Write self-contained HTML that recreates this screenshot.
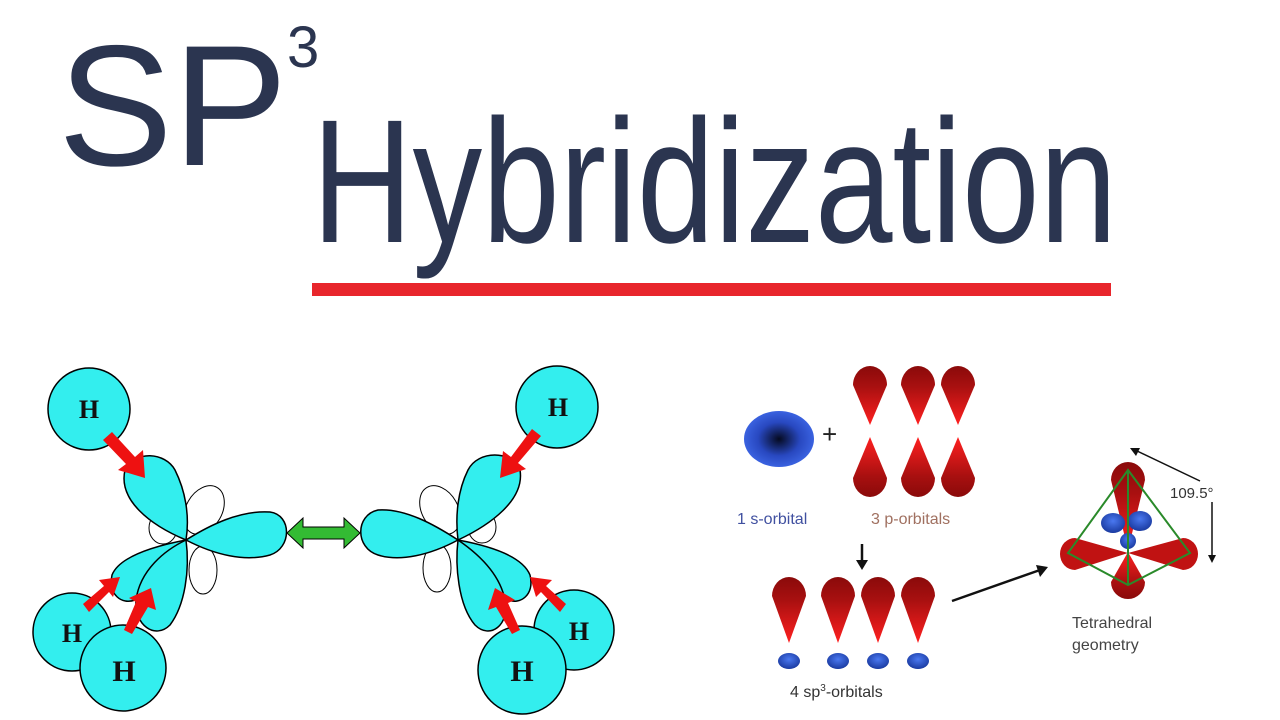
<!DOCTYPE html>
<html><head><meta charset="utf-8"><style>
html,body{margin:0;padding:0;background:#fff;width:1280px;height:720px;overflow:hidden}
svg{display:block}
.sans{font-family:"Liberation Sans",sans-serif}
.serif{font-family:"Liberation Serif",serif;font-weight:bold}
</style></head><body>
<svg width="1280" height="720" viewBox="0 0 1280 720">
<defs>
<radialGradient id="sg" cx="0.5" cy="0.5" r="0.5"><stop offset="0" stop-color="#050a20"/><stop offset="0.6" stop-color="#2848c0"/><stop offset="1" stop-color="#3a62e0"/></radialGradient>
<linearGradient id="pg" x1="0" y1="0" x2="0" y2="1"><stop offset="0" stop-color="#8a0a0a"/><stop offset="0.35" stop-color="#a81010"/><stop offset="1" stop-color="#ff2020"/></linearGradient>
<linearGradient id="pg2" x1="0" y1="1" x2="0" y2="0"><stop offset="0" stop-color="#8a0a0a"/><stop offset="0.35" stop-color="#a81010"/><stop offset="1" stop-color="#ff2020"/></linearGradient>
<radialGradient id="bg" cx="0.5" cy="0.4" r="0.6"><stop offset="0" stop-color="#4a78f0"/><stop offset="1" stop-color="#1a3aa0"/></radialGradient>
</defs>

<text class="sans" x="58" y="165" font-size="172" fill="#2b3550">SP</text>
<text class="sans" x="287" y="67" font-size="58" fill="#2b3550">3</text>
<text class="sans" x="312" y="242" font-size="176" fill="#2b3550" textLength="805" lengthAdjust="spacingAndGlyphs">Hybridization</text>
<rect x="312" y="283" width="799" height="13" fill="#e8262c"/>

<g stroke="#000" stroke-width="1.5">
 <g fill="#fff" stroke-width="1">
  <ellipse cx="204" cy="510" rx="18" ry="26" transform="rotate(30 204 510)"/>
  <ellipse cx="203" cy="570" rx="14" ry="24"/>
  <ellipse cx="440" cy="510" rx="18" ry="26" transform="rotate(-30 440 510)"/>
  <ellipse cx="437" cy="568" rx="14" ry="24"/>
  <ellipse cx="163" cy="528" rx="14" ry="16"/>
  <ellipse cx="482" cy="527" rx="14" ry="16"/>
 </g>
 <g fill="#33eeee">
  <path d="M186,540 C150,525 118,500 125,470 C135,450 165,452 175,470 C185,490 190,515 186,540Z"/>
  <path d="M186,540 C210,525 240,510 270,512 C292,515 292,548 270,555 C245,562 215,555 186,540Z"/>
  <path d="M186,540 C160,545 120,555 112,575 C108,595 122,605 135,600 C160,590 178,565 186,540Z"/>
  <path d="M186,540 C165,550 140,570 136,600 C134,625 155,640 170,625 C185,605 190,570 186,540Z"/>
  <path d="M458,540 C490,525 525,500 520,470 C512,450 478,450 468,470 C458,490 455,515 458,540Z"/>
  <path d="M458,540 C435,525 405,508 378,510 C355,515 355,548 378,555 C400,562 430,555 458,540Z"/>
  <path d="M458,540 C485,545 522,555 530,575 C535,595 520,605 508,600 C485,590 465,565 458,540Z"/>
  <path d="M458,540 C455,565 458,605 475,625 C490,640 510,625 505,600 C500,575 480,555 458,540Z"/>
  <circle cx="89" cy="409" r="41"/>
  <circle cx="557" cy="407" r="41"/>
  <circle cx="72" cy="632" r="39"/>
  <circle cx="123" cy="668" r="43"/>
  <circle cx="574" cy="630" r="40"/>
  <circle cx="522" cy="670" r="44"/>
 </g>
 <g fill="#ee1111" stroke="none">
  <polygon points="103,440 112,432 135,457 143,450 145,478 118,470 126,464"/>
  <polygon points="541,436 532,429 511,457 503,451 500,478 526,469 518,463"/>
  <polygon points="89,612 83,604 104,586 99,580 120,577 113,597 109,592"/>
  <polygon points="132,634 124,630 136,602 129,598 151,588 156,610 148,607"/>
  <polygon points="560,612 566,604 546,586 552,580 530,577 536,597 541,592"/>
  <polygon points="512,634 520,630 508,603 515,600 495,588 488,610 496,607"/>
 </g>
 <polygon points="287,533 303,518 303,527 344,527 344,518 360,533 344,548 344,539 303,539 303,548" fill="#33bb33" stroke="#000" stroke-width="1"/>
 <g stroke="none" fill="#111">
  <text class="serif" x="89" y="418" font-size="26" text-anchor="middle">H</text>
  <text class="serif" x="558" y="416" font-size="26" text-anchor="middle">H</text>
  <text class="serif" x="72" y="642" font-size="26" text-anchor="middle">H</text>
  <text class="serif" x="124" y="681" font-size="30" text-anchor="middle">H</text>
  <text class="serif" x="579" y="640" font-size="26" text-anchor="middle">H</text>
  <text class="serif" x="522" y="681" font-size="30" text-anchor="middle">H</text>
 </g>
</g>

<g>
 <ellipse cx="779" cy="439" rx="35" ry="28" fill="url(#sg)"/>
 <text class="sans" x="822" y="443" font-size="26" fill="#222">+</text>
 <g>
  <path d="M870,425 L853,385 A17,19 0 1 1 887,385Z" fill="url(#pg)"/>
  <path d="M870,437 L853,478 A17,19 0 1 0 887,478Z" fill="url(#pg2)"/>
  <path d="M918,425 L901,385 A17,19 0 1 1 935,385Z" fill="url(#pg)"/>
  <path d="M918,437 L901,478 A17,19 0 1 0 935,478Z" fill="url(#pg2)"/>
  <path d="M958,425 L941,385 A17,19 0 1 1 975,385Z" fill="url(#pg)"/>
  <path d="M958,437 L941,478 A17,19 0 1 0 975,478Z" fill="url(#pg2)"/>
 </g>
 <text class="sans" x="737" y="524" font-size="16" fill="#4050a0">1 s-orbital</text>
 <text class="sans" x="871" y="524" font-size="16" fill="#a07060">3 p-orbitals</text>
 <line x1="862" y1="544" x2="862" y2="562" stroke="#111" stroke-width="2.5"/>
 <polygon points="856,560 868,560 862,570" fill="#111"/>
 <g>
  <path d="M789,643 L772,596 A17,19 0 1 1 806,596Z" fill="url(#pg)"/>
  <ellipse cx="789" cy="661" rx="11" ry="8" fill="url(#bg)"/>
  <path d="M838,643 L821,596 A17,19 0 1 1 855,596Z" fill="url(#pg)"/>
  <ellipse cx="838" cy="661" rx="11" ry="8" fill="url(#bg)"/>
  <path d="M878,643 L861,596 A17,19 0 1 1 895,596Z" fill="url(#pg)"/>
  <ellipse cx="878" cy="661" rx="11" ry="8" fill="url(#bg)"/>
  <path d="M918,643 L901,596 A17,19 0 1 1 935,596Z" fill="url(#pg)"/>
  <ellipse cx="918" cy="661" rx="11" ry="8" fill="url(#bg)"/>
 </g>
 <text class="sans" x="790" y="697" font-size="16" fill="#333">4 sp<tspan font-size="10" dy="-6">3</tspan><tspan dy="6">-orbitals</tspan></text>
 <line x1="952" y1="601" x2="1040" y2="570" stroke="#111" stroke-width="2.5"/>
 <polygon points="1048,567 1036,565 1040,577" fill="#111"/>
 <g>
  <path d="M1128,550 L1111,480 A17,18 0 1 1 1145,480Z" fill="url(#pg)"/>
  <path d="M1128,552 L1111,582 A17,17 0 1 0 1145,582Z" fill="url(#pg2)"/>
  <path d="M1128,553 L1075,538 A15,16 0 1 0 1075,570Z" fill="#c01212"/>
  <path d="M1128,553 L1183,538 A15,16 0 1 1 1183,570Z" fill="#c01212"/>
  <ellipse cx="1113" cy="523" rx="12" ry="10" fill="url(#bg)"/>
  <ellipse cx="1140" cy="521" rx="12" ry="10" fill="url(#bg)"/>
  <ellipse cx="1128" cy="541" rx="8" ry="8" fill="url(#bg)"/>
  <polygon points="1128,470 1068,553 1128,585 1190,553" fill="none" stroke="#2a8a2a" stroke-width="2"/>
  <line x1="1128" y1="470" x2="1128" y2="585" stroke="#2a8a2a" stroke-width="2"/>
 </g>
 <line x1="1200" y1="481" x2="1135" y2="450" stroke="#111" stroke-width="1.5"/>
 <polygon points="1130,448 1140,448 1136,456" fill="#111"/>
 <line x1="1212" y1="502" x2="1212" y2="558" stroke="#111" stroke-width="1.5"/>
 <polygon points="1208,555 1216,555 1212,563" fill="#111"/>
 <text class="sans" x="1170" y="498" font-size="15" fill="#333">109.5°</text>
 <text class="sans" x="1072" y="628" font-size="16" fill="#444">Tetrahedral</text>
 <text class="sans" x="1072" y="650" font-size="16" fill="#444">geometry</text>
</g>
</svg>
</body></html>
